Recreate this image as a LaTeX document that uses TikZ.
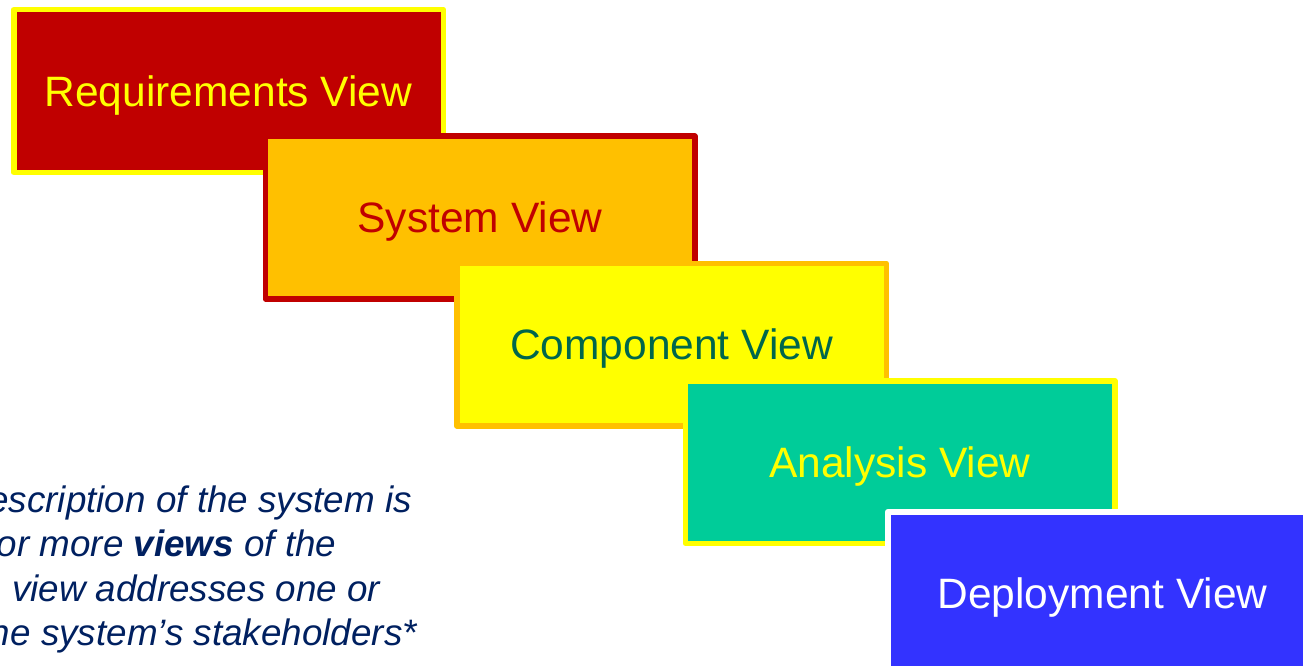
\documentclass[tikz,border=0pt]{standalone}
\usepackage{fontspec}
\setmainfont{Liberation Sans}
\definecolor{reqred}{HTML}{C00000}
\definecolor{sysorange}{HTML}{FFC000}
\definecolor{pureyellow}{HTML}{FFFF00}
\definecolor{compgreen}{RGB}{0,102,76}
\definecolor{anagreen}{HTML}{00CC99}
\definecolor{depblue}{HTML}{3333FF}
\definecolor{notenavy}{RGB}{0,32,96}
\begin{document}
\begin{tikzpicture}[x=1pt,y=-1pt,
  viewbox/.style={draw, line width=5.5pt, line join=round,
    minimum width=429.5pt, minimum height=162.5pt, inner sep=0pt,
    text height=30.4pt, text depth=0pt,
    font=\fontsize{42.5}{48}\selectfont},
  noteline/.style={anchor=base east, inner sep=0pt, text=notenavy,
    font=\fontsize{36.8}{44}\selectfont\itshape}]
\useasboundingbox (0,0) rectangle (1303,666);
\clip (0,0) rectangle (1303,666);

% cascade of views, each one drawn over the previous one
\node[viewbox, fill=reqred, draw=pureyellow, text=pureyellow]
  (req) at (228.5,91) {Requirements View};
\node[viewbox, fill=sysorange, draw=reqred, text=reqred]
  (sys) at (480,217.5) {System View};
\node[viewbox, fill=pureyellow, draw=sysorange, text=compgreen]
  (comp) at (671.5,344.5) {Component View};
\node[viewbox, fill=anagreen, draw=pureyellow, text=pureyellow]
  (ana) at (900,462) {Analysis View};
\node[viewbox, fill=depblue, draw=white, text=white]
  (dep) at (1102.5,593) {Deployment View};

% explanatory note, running off the left edge
\node[noteline] (n1) at (412,512) {description of the system is};
\node[noteline] (n2) at (336.5,556.5) {or more \textbf{views} of the};
\node[noteline] (n3) at (380.5,601) {view addresses one or};
\node[noteline] (n4) at (417,645.5) {the system’s stakeholders*};
\end{tikzpicture}
\end{document}
